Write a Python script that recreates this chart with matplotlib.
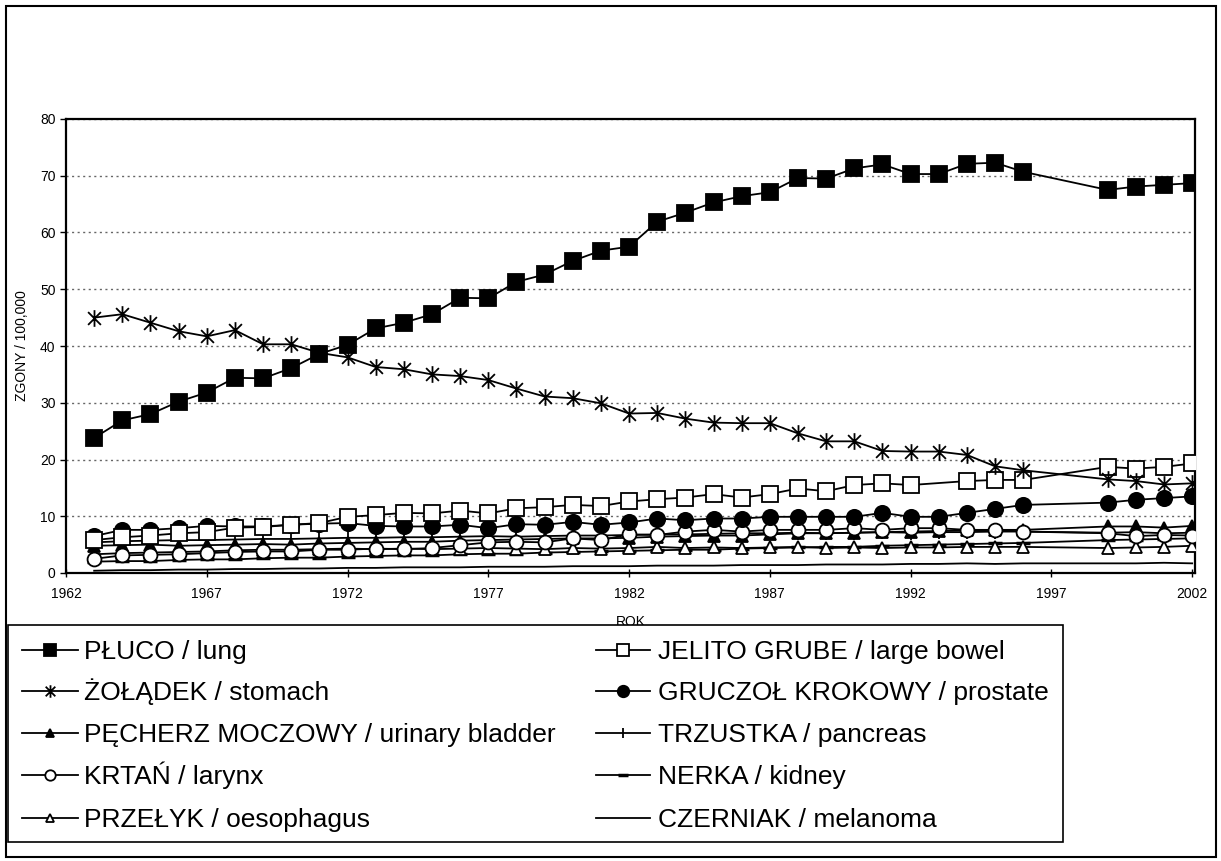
import numpy as np
import matplotlib.pyplot as plt
from matplotlib.path import Path
from matplotlib.patches import Rectangle
from matplotlib.lines import Line2D

plt.rcParams['font.family'] = ['Liberation Sans', 'DejaVu Sans']

years = list(range(1963, 1997)) + [1999, 2000, 2001, 2002]

lung = [23.8, 26.9, 28.0, 30.2, 31.8, 34.4, 34.3, 36.1, 38.6, 40.2,
        43.1, 44.1, 45.6, 48.5, 48.4, 51.3, 52.6, 55.0, 56.8, 57.5,
        61.9, 63.5, 65.3, 66.4, 67.1, 69.6, 69.5, 71.3, 72.0, 70.3,
        70.3, 72.1, 72.3, 70.7, 67.5, 68.1, 68.4, 68.7]
stomach = [45.0, 45.6, 44.1, 42.6, 41.7, 42.8, 40.3, 40.3, 38.8, 38.0,
           36.3, 35.9, 35.0, 34.7, 34.0, 32.5, 31.1, 30.8, 29.9, 28.1,
           28.2, 27.2, 26.5, 26.4, 26.4, 24.6, 23.2, 23.2, 21.5, 21.4,
           21.4, 20.8, 18.8, 18.1, 16.5, 16.2, 15.6, 15.8]
bladder = [4.8, 4.9, 5.0, 4.8, 4.9, 5.0, 5.1, 5.0, 5.2, 5.3,
           5.4, 5.5, 5.5, 5.7, 5.8, 5.9, 6.0, 6.1, 6.1, 6.2,
           6.4, 6.5, 6.6, 6.6, 6.8, 7.0, 7.0, 7.1, 7.2, 7.3,
           7.4, 7.5, 7.6, 7.6, 8.2, 8.2, 8.0, 8.3]
larynx = [2.5, 3.1, 3.2, 3.3, 3.5, 3.7, 3.8, 3.8, 4.1, 4.1,
          4.3, 4.2, 4.4, 4.9, 5.4, 5.5, 5.4, 6.1, 5.8, 6.8,
          6.7, 7.3, 7.6, 7.3, 7.6, 7.6, 7.6, 7.9, 7.6, 7.9,
          7.9, 7.6, 7.6, 7.3, 7.0, 6.5, 6.7, 6.6]
oesophagus = [3.3, 3.5, 3.6, 3.7, 3.8, 4.0, 4.1, 4.1, 4.2, 4.3,
              4.2, 4.3, 4.2, 4.3, 4.4, 4.3, 4.2, 4.4, 4.3, 4.4,
              4.6, 4.4, 4.5, 4.4, 4.5, 4.6, 4.4, 4.5, 4.4, 4.5,
              4.5, 4.6, 4.6, 4.6, 4.4, 4.5, 4.6, 4.8]
large_bowel = [5.8, 6.3, 6.6, 7.0, 7.2, 8.0, 8.1, 8.5, 8.8, 9.9,
               10.2, 10.6, 10.5, 11.0, 10.5, 11.4, 11.6, 12.0, 11.8, 12.6,
               13.0, 13.3, 13.9, 13.3, 13.9, 14.9, 14.4, 15.5, 15.8, 15.5,
               np.nan, 16.2, 16.4, 16.4, 18.7, 18.4, 18.7, 19.3]
prostate = [6.5, 7.6, 7.6, 7.9, 8.3, 8.2, 8.2, 8.5, 8.7, 8.8,
            8.3, 8.2, 8.2, 8.5, 7.9, 8.6, 8.5, 9.0, 8.5, 8.9,
            9.6, 9.3, 9.6, 9.6, 9.9, 9.9, 9.9, 9.9, 10.6, 9.9,
            9.9, 10.6, 11.3, 12.0, 12.4, 12.9, 13.2, 13.5]
pancreas = [5.4, 5.6, 5.7, 5.8, 5.8, 5.9, 6.0, 6.0, 6.1, 6.2,
            6.2, 6.3, 6.3, 6.4, 6.5, 6.4, 6.5, 6.6, 6.6, 6.7,
            6.8, 6.8, 6.9, 7.0, 7.0, 7.1, 7.0, 7.1, 7.2, 7.1,
            7.2, 7.2, 7.3, 7.3, 7.1, 7.2, 7.0, 7.1]
kidney = [2.0, 2.1, 2.1, 2.3, 2.4, 2.4, 2.6, 2.7, 2.7, 2.9,
          3.0, 3.1, 3.1, 3.3, 3.4, 3.4, 3.6, 3.7, 3.8, 3.9,
          4.0, 4.1, 4.1, 4.3, 4.4, 4.5, 4.6, 4.6, 4.8, 4.9,
          5.0, 5.1, 5.2, 5.3, 5.8, 5.9, 6.0, 6.1]
melanoma = [0.4, 0.5, 0.5, 0.6, 0.6, 0.7, 0.7, 0.8, 0.8, 0.9,
            0.9, 1.0, 1.0, 1.0, 1.1, 1.1, 1.1, 1.2, 1.2, 1.2,
            1.3, 1.3, 1.3, 1.4, 1.4, 1.4, 1.5, 1.5, 1.5, 1.6,
            1.6, 1.7, 1.6, 1.7, 1.7, 1.7, 1.8, 1.7]

labels = ["PŁUCO / lung", "ŻOŁĄDEK / stomach", "PĘCHERZ MOCZOWY / urinary bladder",
          "KRTAŃ / larynx", "PRZEŁYK / oesophagus", "JELITO GRUBE / large bowel",
          "GRUCZOŁ KROKOWY / prostate", "TRZUSTKA / pancreas", "NERKA / kidney",
          "CZERNIAK / melanoma"]

x_ticks = [1962, 1967, 1972, 1977, 1982, 1987, 1992, 1997, 2002]

# asterisk marker like the one Excel uses
star = Path([(-1, -1), (1, 1), (-1, 1), (1, -1), (0, -1.3), (0, 1.3)],
            [Path.MOVETO, Path.LINETO, Path.MOVETO, Path.LINETO, Path.MOVETO, Path.LINETO])

styles = [
    dict(marker="s", ms=12, mfc="black"),
    dict(marker=star, ms=12, mfc="none"),
    dict(marker="^", ms=8.5, mfc="black"),
    dict(marker="o", ms=10, mfc="white"),
    dict(marker="^", ms=8.5, mfc="white"),
    dict(marker="s", ms=11, mfc="white"),
    dict(marker="o", ms=11, mfc="black"),
    dict(marker="|", ms=10, mfc="black"),
    dict(marker="_", ms=10, mfc="black", mew=2.5),
    dict(marker="None"),
]
series = [lung, stomach, bladder, larynx, oesophagus, large_bowel,
          prostate, pancreas, kidney, melanoma]

W, H = 1221, 861
fig = plt.figure(figsize=(W / 100, H / 100), dpi=100)
ax = fig.add_axes([66 / W, 1 - 573 / H, (1195 - 66) / W, (573 - 119) / H])

x = np.array(years)
# draw bottom series first so the big markers sit on top
order = [9, 8, 7, 4, 2, 3, 6, 5, 1, 0]
for i in order:
    y = np.array(series[i], dtype=float)
    ok = ~np.isnan(y)
    st = dict(styles[i])
    mew = st.pop("mew", 1.3)
    ax.plot(x[ok], y[ok], color="black", lw=1.3, mec="black", mew=mew,
            label=labels[i], zorder=3 + order.index(i), **st)

ax.set_xlim(1962, 2002.1)
ax.set_ylim(0, 80)
ax.set_xticks(x_ticks)
ax.set_yticks(range(0, 81, 10))
ax.tick_params(axis="both", labelsize=10, color="black", width=1)
ax.tick_params(axis="x", direction="inout", length=6, pad=7)
ax.tick_params(axis="y", direction="out", length=4)
ax.yaxis.grid(True, linestyle=(0, (1.5, 2.5)), color="#666666", lw=1)
ax.set_axisbelow(True)
for s in ax.spines.values():
    s.set_linewidth(1.6)
ax.set_ylabel("ZGONY / 100,000", fontsize=10, labelpad=8)
ax.set_xlabel("ROK", fontsize=10, labelpad=10)

# legend box, drawn by hand so rows of both columns line up
def fx(px):
    return px / W

def fy(py):
    return 1 - py / H

fig.add_artist(Rectangle((fx(8), fy(842)), fx(1063) - fx(8), fy(625) - fy(842),
                         transform=fig.transFigure, facecolor="white",
                         edgecolor="black", lw=1.2, zorder=5))
row_y = [650, 691, 733, 775, 818]
cols = [(22, 78, 84), (596, 650, 658)]
for k, lab in enumerate(labels):
    c, r = divmod(k, 5)
    x0, x1, xt = cols[c]
    yy = fy(row_y[r])
    st = dict(styles[k])
    mew = st.pop("mew", 1.3)
    ms = st.pop("ms", 8) * 0.75
    fig.add_artist(Line2D([fx(x0), fx(x1)], [yy, yy], transform=fig.transFigure,
                          color="black", lw=1.3, zorder=6))
    fig.add_artist(Line2D([fx((x0 + x1) / 2)], [yy], transform=fig.transFigure,
                          color="black", mec="black", mew=mew, ms=ms, ls="none",
                          zorder=7, **st))
    fig.text(fx(xt), fy(row_y[r] + 9), lab, fontsize=19, va="baseline",
             ha="left", zorder=8)

fig.add_artist(Rectangle((fx(6), fy(857)), fx(1216) - fx(6), fy(6) - fy(857),
                         transform=fig.transFigure, fill=False,
                         edgecolor="black", lw=1.5, zorder=4))

fig.savefig("out.png", dpi=100)
